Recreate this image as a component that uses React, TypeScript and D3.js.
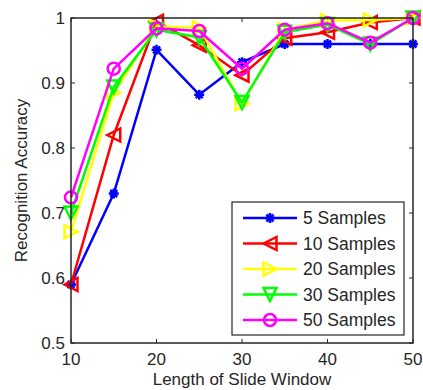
import { useEffect, useRef } from 'react'
import * as d3 from 'd3'

const windowLengths = [10, 15, 20, 25, 30, 35, 40, 45, 50]
const seriesNames = ['5 Samples', '10 Samples', '20 Samples', '30 Samples', '50 Samples']
const samples5 = [0.59, 0.73, 0.951, 0.882, 0.932, 0.96, 0.96, 0.96, 0.96]
const samples10 = [0.59, 0.82, 0.995, 0.958, 0.912, 0.969, 0.978, 0.993, 1.0]
const samples20 = [0.671, 0.885, 0.987, 0.985, 0.868, 0.982, 0.996, 0.997, 1.0]
const samples30 = [0.70, 0.894, 0.982, 0.97, 0.87, 0.978, 0.99, 0.96, 1.0]
const samples50 = [0.724, 0.922, 0.984, 0.98, 0.922, 0.982, 0.992, 0.962, 1.0]
const xTicks = [10, 20, 30, 40, 50]
const yTicks = [0.5, 0.6, 0.7, 0.8, 0.9, 1]

const COLORS = ['#0000ff', '#ff0000', '#ffff00', '#00ff00', '#ff00ff']
const MARKERS = ['star', 'left', 'right', 'down', 'circle']

const FONT = '"Liberation Sans", Arial, sans-serif'
const INK = '#262626'

function markerPath(kind: string, s: number) {
  switch (kind) {
    case 'star': {
      const d = s * 0.7
      return `M${-s},0L${s},0M0,${-s}L0,${s}M${-d},${-d}L${d},${d}M${-d},${d}L${d},${-d}`
    }
    case 'left':
      return `M${-s},0L${s},${-s}L${s},${s}Z`
    case 'right':
      return `M${s},0L${-s},${-s}L${-s},${s}Z`
    case 'down':
      return `M0,${s}L${-s},${-s}L${s},${-s}Z`
    default:
      return ''
  }
}

export default function App() {
  const svgRef = useRef<SVGSVGElement>(null)

  useEffect(() => {
    const svgEl = svgRef.current
    if (!svgEl) return
    const root = d3.select(svgEl)
    root.selectAll('*').remove()

    const left = 71, right = 413, top = 18, bottom = 343
    const x = d3.scaleLinear().domain([10, 50]).range([left, right])
    const y = d3.scaleLinear().domain([0.5, 1]).range([bottom, top])

    const g = root.append('g')

    // ticks inside, mirrored on top/right
    xTicks.forEach(t => {
      g.append('line').attr('x1', x(t)).attr('x2', x(t)).attr('y1', bottom).attr('y2', bottom - 4)
        .attr('stroke', INK)
      g.append('line').attr('x1', x(t)).attr('x2', x(t)).attr('y1', top).attr('y2', top + 4)
        .attr('stroke', INK)
      g.append('text').attr('x', x(t)).attr('y', bottom + 22)
        .attr('text-anchor', 'middle').attr('font-family', FONT).attr('font-size', 17)
        .attr('fill', INK).text(String(t))
    })
    yTicks.forEach(t => {
      g.append('line').attr('x1', left).attr('x2', left + 4).attr('y1', y(t)).attr('y2', y(t))
        .attr('stroke', INK)
      g.append('line').attr('x1', right).attr('x2', right - 4).attr('y1', y(t)).attr('y2', y(t))
        .attr('stroke', INK)
      g.append('text').attr('x', left - 6).attr('y', y(t) + 6)
        .attr('text-anchor', 'end').attr('font-family', FONT).attr('font-size', 17)
        .attr('fill', INK).text(d3.format('~g')(t))
    })

    const allSeries = [samples5, samples10, samples20, samples30, samples50]
    const line = d3.line<number>().x((_, i) => x(windowLengths[i])).y(v => y(v))

    allSeries.forEach((vals, si) => {
      const sg = g.append('g')
      sg.append('path').attr('d', line(vals)).attr('fill', 'none')
        .attr('stroke', COLORS[si]).attr('stroke-width', 2.5)
      vals.forEach((v, i) => {
        const cx = x(windowLengths[i]), cy = y(v)
        if (MARKERS[si] === 'circle') {
          sg.append('circle').attr('cx', cx).attr('cy', cy).attr('r', 6)
            .attr('fill', 'none').attr('stroke', COLORS[si]).attr('stroke-width', 2.5)
        } else {
          sg.append('path').attr('transform', `translate(${cx},${cy})`)
            .attr('d', markerPath(MARKERS[si], MARKERS[si] === 'star' ? 5 : 6.5))
            .attr('fill', 'none').attr('stroke', COLORS[si]).attr('stroke-width', 2.5)
        }
      })
    })

    // frame
    g.append('rect').attr('x', left).attr('y', top).attr('width', right - left).attr('height', bottom - top)
      .attr('fill', 'none').attr('stroke', INK).attr('stroke-width', 1.5)

    // axis labels
    g.append('text').attr('x', (left + right) / 2).attr('y', 385)
      .attr('text-anchor', 'middle').attr('font-family', FONT).attr('font-size', 17)
      .attr('fill', INK).text('Length of Slide Window')
    g.append('text').attr('transform', `translate(27,${(top + bottom) / 2}) rotate(-90)`)
      .attr('text-anchor', 'middle').attr('font-family', FONT).attr('font-size', 17)
      .attr('fill', INK).text('Recognition Accuracy')

    // legend
    const lg = g.append('g')
    lg.append('rect').attr('x', 232).attr('y', 202).attr('width', 172).attr('height', 133)
      .attr('fill', '#fff').attr('stroke', INK).attr('stroke-width', 1.2)
    seriesNames.forEach((name, si) => {
      const ly = 218 + si * 25.5
      lg.append('line').attr('x1', 243).attr('x2', 297).attr('y1', ly).attr('y2', ly)
        .attr('stroke', COLORS[si]).attr('stroke-width', 2.5)
      if (MARKERS[si] === 'circle') {
        lg.append('circle').attr('cx', 270).attr('cy', ly).attr('r', 6)
          .attr('fill', 'none').attr('stroke', COLORS[si]).attr('stroke-width', 2.5)
      } else {
        lg.append('path').attr('transform', `translate(270,${ly})`)
          .attr('d', markerPath(MARKERS[si], MARKERS[si] === 'star' ? 5 : 6.5))
          .attr('fill', 'none').attr('stroke', COLORS[si]).attr('stroke-width', 2.5)
      }
      lg.append('text').attr('x', 303).attr('y', ly + 6)
        .attr('font-family', FONT).attr('font-size', 17.5).attr('fill', INK).text(name)
    })
  }, [])

  return (
    <svg ref={svgRef} width={423} height={390}
      style={{ position: 'absolute', left: 0, top: 0, background: '#fff' }} />
  )
}
